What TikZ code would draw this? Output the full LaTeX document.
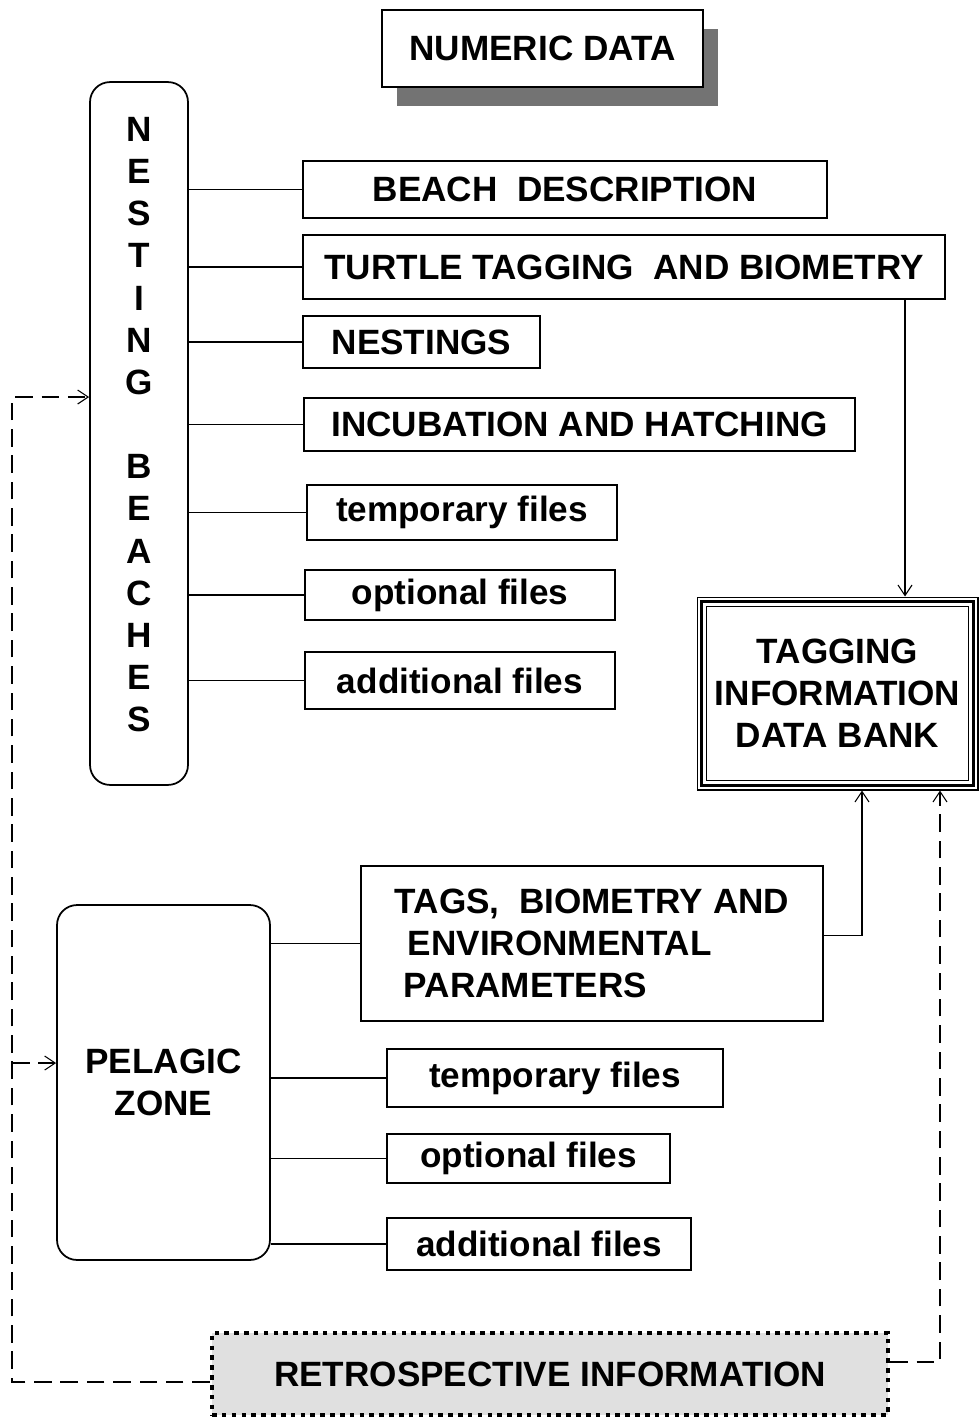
\documentclass[tikz,border=0pt]{standalone}
\usepackage{fontspec}
\setmainfont{Liberation Sans}
\usepackage{tikz}
\usetikzlibrary{positioning, arrows.meta, shadows, calc}
\tikzstyle{item} = [rectangle, draw, line width=1pt, inner sep=0pt, text centered, font=\fontsize{20}{24}\selectfont\bfseries]
\tikzstyle{zone} = [item, rounded corners=0.4cm, align=center]
\tikzstyle{link} = [line width=0.6pt]
\tikzstyle{arrow} = [line width=0.6pt, -{Straight Barb[length=6pt, width=8pt]}]
\tikzstyle{dasharrow} = [arrow, dash pattern=on 10pt off 5pt]

\begin{document}
\begin{tikzpicture}[x=0.02cm, y=-0.02cm]
            \useasboundingbox (0,0) rectangle (978,1417);
            % title
            \node[item, line width=1.6pt, fill=white, minimum width=6.42cm, minimum height=1.54cm,
                drop shadow={shadow xshift=0.3cm, shadow yshift=-0.38cm, fill=black!55, opacity=1}] (numeric) at (542.5,48.5) {NUMERIC DATA};
            % nesting beaches
            \node[zone, minimum width=1.96cm, minimum height=14.06cm] (nest) at (139,433.5)
                {N\\E\\S\\T\\I\\N\\G\\[24pt]B\\E\\A\\C\\H\\E\\S\rule[-0.36cm]{0pt}{0pt}};
            \node[item, minimum width=10.48cm, minimum height=1.14cm] (beach) at (565,189.5) {BEACH~ DESCRIPTION};
            \node[item, minimum width=12.84cm, minimum height=1.28cm] (turtle) at (624,267) {TURTLE TAGGING~ AND BIOMETRY};
            \node[item, minimum width=4.74cm, minimum height=1.04cm] (nestings) at (421.5,342) {NESTINGS};
            \node[item, minimum width=11.02cm, minimum height=1.06cm] (incub) at (579.5,424.5) {INCUBATION AND HATCHING};
            \node[item, minimum width=6.2cm, minimum height=1.1cm] (temp1) at (462,512.5) {temporary files};
            \node[item, minimum width=6.2cm, minimum height=1.0cm] (opt1) at (460,595) {optional files};
            \node[item, minimum width=6.2cm, minimum height=1.14cm] (add1) at (460,680.5) {additional files};
            \foreach \b in {beach, turtle, nestings, incub, temp1, opt1, add1}
                \draw[link] (nest.east |- \b.west) -- (\b.west);
            % data bank
            \node[item, line width=0.6pt, align=center, minimum width=5.62cm, minimum height=3.86cm] (bank) at (837.5,693.5)
                {TAGGING\\INFORMATION\\DATA BANK};
            \draw[line width=1.8pt] ([shift={(5,5)}]bank.north west) rectangle ([shift={(-5,-5)}]bank.south east);
            \draw[line width=0.6pt] ([shift={(10,10)}]bank.north west) rectangle ([shift={(-10,-10)}]bank.south east);
            % pelagic zone
            \node[zone, minimum width=4.26cm, minimum height=7.1cm] (pelagic) at (163.5,1082.5) {PELAGIC\\ZONE};
            \node[item, align=left, minimum width=9.24cm, minimum height=3.1cm] (tags) at (592,943.5)
                {TAGS,~ BIOMETRY AND\\\hspace*{0.26cm}ENVIRONMENTAL\\\hspace*{0.18cm}PARAMETERS};
            \node[item, minimum width=6.72cm, minimum height=1.16cm] (temp2) at (555,1078) {temporary files};
            \node[item, minimum width=5.66cm, minimum height=0.98cm] (opt2) at (528.5,1158.5) {optional files};
            \node[item, minimum width=6.08cm, minimum height=1.04cm] (add2) at (539,1244) {additional files};
            \foreach \b in {tags, temp2, opt2, add2}
                \draw[link] (pelagic.east |- \b.west) -- (\b.west);
            % retrospective
            \node[item, fill=black!12, line width=2.6pt, dash pattern=on 2.6pt off 3pt, minimum width=13.52cm, minimum height=1.64cm] (retro) at (550,1374)
                {RETROSPECTIVE INFORMATION};
            % flows into the bank
            \coordinate (down) at (905,0);
            \coordinate (up1) at (862,0);
            \coordinate (up2) at (940,0);
            \coordinate (back) at (12,397);
            \coordinate (fork) at (12,1063);
            \draw[arrow] (turtle.south -| down) -- (bank.north -| down);
            \draw[arrow] ([yshift=0.16cm]tags.east) -| (bank.south -| up1);
            \draw[dasharrow] ([yshift=0.24cm]retro.east) -| (bank.south -| up2);
            \draw[dasharrow] ([yshift=-0.16cm]retro.west) -| (back) -- (nest.west |- back);
            \draw[dasharrow] (fork) -- (pelagic.west |- fork);
        \end{tikzpicture}
\end{document}
